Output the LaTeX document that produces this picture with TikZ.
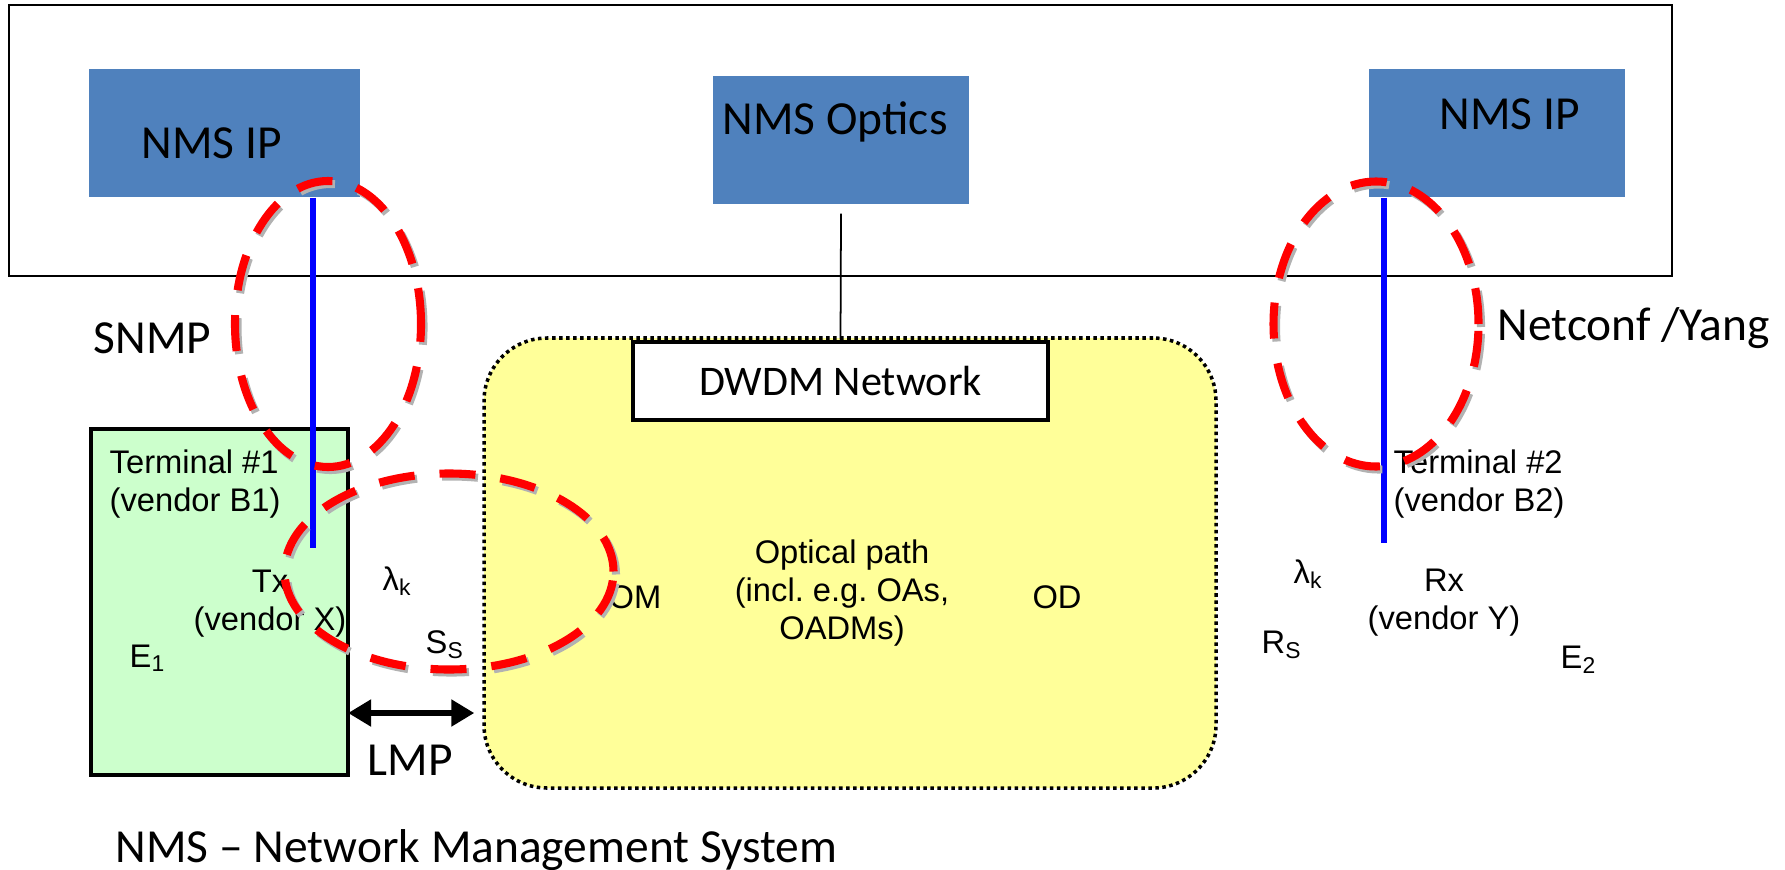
\documentclass[tikz,border=0pt]{standalone}
\usepackage{fontspec}
\setmainfont{Carlito}
\newfontfamily\arialfont{Liberation Sans}
\usetikzlibrary{arrows.meta}
\frenchspacing
\definecolor{nmsblue}{RGB}{79,129,189}
\definecolor{termgreen}{RGB}{204,255,204}
\definecolor{pathyellow}{RGB}{255,255,153}
\tikzset{
  nms/.style={fill=nmsblue,inner sep=0pt,minimum height=1.28cm},
  big/.style={font=\fontsize{13.5}{16}\selectfont,inner sep=0pt},
  small/.style={font=\arialfont\fontsize{9.3}{10.8}\selectfont,inner sep=0pt},
  blueline/.style={blue,line width=1.6pt},
  lmparrow/.style={line width=1.5pt,{Triangle[length=2.3mm,width=2.6mm]}-{Triangle[length=2.3mm,width=2.6mm]}},
  ring/.style={red,line width=2.3pt,dash pattern=on 0.36cm off 0.25cm,
    preaction={draw=gray!60,line width=2.3pt,dash pattern=on 0.36cm off 0.25cm,
      transform canvas={shift={(0.025cm,-0.03cm)}}}}
}
\begin{document}
\begin{tikzpicture}
\useasboundingbox (0,0) rectangle (17.85,-8.69);
\draw[line width=0.8pt] (0.09,-0.05) rectangle (16.72,-2.76);
\node[nms,minimum width=2.71cm] (nmsL) at (2.245,-1.33) {};
\node[nms,minimum width=2.56cm] (nmsO) at (8.41,-1.40) {};
\node[nms,minimum width=2.56cm] (nmsR) at (14.97,-1.33) {};
\node[big,anchor=base west] (nmsLtxt) at (1.41,-1.59) {NMS IP};
\node[big,anchor=base west] (nmsOtxt) at (7.22,-1.35) {NMS Optics};
\node[big,anchor=base west] (nmsRtxt) at (14.39,-1.30) {NMS IP};

\node[draw,fill=pathyellow,line width=1pt,dash pattern=on 1pt off 1pt,rounded corners=0.63cm,
  minimum width=7.32cm,minimum height=4.5cm,inner sep=0pt] (optnet) at (8.50,-5.63) {};
\node[draw,fill=termgreen,line width=1.2pt,minimum width=2.57cm,minimum height=3.46cm,inner sep=0pt] (term1) at (2.195,-6.02) {};
\node[draw,fill=white,line width=1.4pt,minimum width=4.15cm,minimum height=0.78cm,inner sep=0pt,
  font=\fontsize{12}{14}\selectfont] (dwdm) at (8.405,-3.81) {DWDM Network};
\draw[line width=0.5pt] ([yshift=-0.09cm]nmsO.south) -- (dwdm.north);

\coordinate (snmpend) at (3.13,-5.48);
\coordinate (netconfend) at (13.84,-5.43);
\draw[blueline] (nmsL.south -| snmpend) -- (snmpend);
\draw[blueline] (nmsR.south -| netconfend) -- (netconfend);

\coordinate (lmpy) at (0,-7.13);
\draw[lmparrow] ([xshift=-0.02cm]term1.east |- lmpy) -- ([xshift=-0.08cm]optnet.west |- lmpy);

\node[big,anchor=base west] (snmp) at (0.93,-3.53) {SNMP};
\node[big,anchor=base west] (netconf) at (14.97,-3.40) {Netconf /Yang};
\node[big,anchor=base west] (lmp) at (3.67,-7.75) {LMP};
\node[big,anchor=base west] (legend) at (1.15,-8.62) {NMS – Network Management System};

\node[small,anchor=north west,align=left] (term1txt) at (1.09,-4.49) {Terminal \#1\\(vendor B1)};
\node[small,anchor=north,align=center] (tx) at (2.70,-5.69) {Tx\\(vendor X)};
\node[small,anchor=base west] (e1) at (1.29,-6.67) {E\textsubscript{1}};
\node[small,anchor=base west] (lamL) at (3.82,-5.90) {λ\textsubscript{k}};
\node[small,anchor=base west] (ss) at (4.25,-6.53) {S\textsubscript{S}};
\node[small,anchor=base west] (om) at (6.08,-6.08) {OM};
\node[small,anchor=north,align=center] (optpath) at (8.42,-5.39) {Optical path\\(incl. e.g. OAs,\\OADMs)};
\node[small,anchor=base] (od) at (10.57,-6.08) {OD};
\node[small,anchor=base west] (lamR) at (12.93,-5.83) {λ\textsubscript{k}};
\node[small,anchor=base west] (rs) at (12.61,-6.53) {R\textsubscript{S}};
\node[small,anchor=north,align=center] (rx) at (14.44,-5.68) {Rx\\(vendor Y)};
\node[small,anchor=base west] (e2) at (15.60,-6.68) {E\textsubscript{2}};
\node[small,anchor=north west,align=left] (term2txt) at (13.93,-4.49) {Terminal \#2\\(vendor B2)};

\coordinate (snmpc) at (3.28,-3.24);
\coordinate (lmpc) at (4.49,-5.715);
\coordinate (netconfc) at (13.76,-3.24);
\draw[ring] (snmpc) ellipse [x radius=0.93,y radius=1.43];
\draw[ring] (lmpc) ellipse [x radius=1.645,y radius=0.98];
\draw[ring] (netconfc) ellipse [x radius=1.025,y radius=1.425];
\end{tikzpicture}
\end{document}
